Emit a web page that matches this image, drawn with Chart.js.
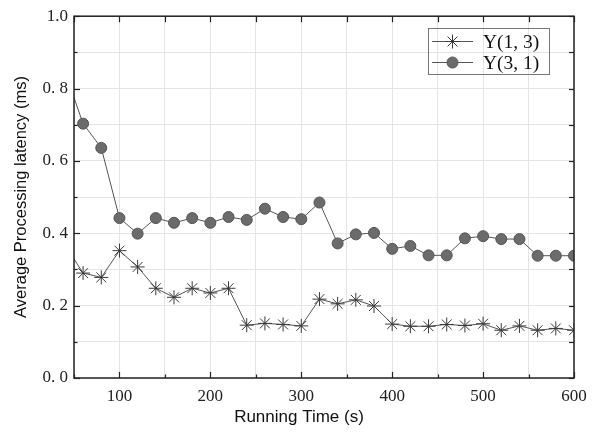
<!DOCTYPE html>
<html>
<head>
<meta charset="utf-8">
<script src="https://cdn.jsdelivr.net/npm/chart.js@4/dist/chart.umd.min.js"></script>
<style>
html,body{margin:0;padding:0;background:#fff;}
#wrap{width:598px;height:432px;position:relative;}
</style>
</head>
<body>
<div id="wrap"><canvas id="c" width="598" height="432"></canvas></div>
<script>
// Running time (s); first point lies left of the visible range and is clipped
const times = [40, 60, 80, 100, 120, 140, 160, 180, 200, 220, 240, 260, 280, 300, 320, 340, 360, 380, 400, 420, 440, 460, 480, 500, 520, 540, 560, 580, 600];
const y13 = [0.368, 0.290, 0.278, 0.352, 0.307, 0.248, 0.223, 0.248, 0.235, 0.248, 0.146, 0.151, 0.148, 0.144, 0.218, 0.205, 0.216, 0.199, 0.149, 0.143, 0.143, 0.148, 0.145, 0.150, 0.132, 0.144, 0.132, 0.137, 0.132];
const y31 = [0.847, 0.703, 0.636, 0.442, 0.399, 0.442, 0.429, 0.442, 0.429, 0.445, 0.437, 0.468, 0.445, 0.439, 0.485, 0.372, 0.397, 0.401, 0.357, 0.365, 0.339, 0.339, 0.386, 0.392, 0.384, 0.384, 0.338, 0.338, 0.338];
const seriesNames = ['Y(1, 3)', 'Y(3, 1)'];
const xTitle = 'Running Time (s)';
const yTitle = 'Average Processing latency (ms)';

const SERIF = '"Liberation Serif", "DejaVu Serif", serif';
const SANS = '"Liberation Sans", Arial, sans-serif';

function pts(ys){ return times.map((t,i)=>({x:t,y:ys[i]})); }

const framePlugin = {
  id:'frame',
  beforeDraw(chart){
    const ctx=chart.ctx;
    ctx.save(); ctx.fillStyle='#fff'; ctx.fillRect(0,0,chart.width,chart.height); ctx.restore();
  },
  afterDraw(chart){
    const ctx=chart.ctx, a=chart.chartArea, xs=chart.scales.x, ys=chart.scales.y;
    ctx.save();
    ctx.strokeStyle='#222'; ctx.lineWidth=1.5;
    ctx.strokeRect(a.left,a.top,a.right-a.left,a.bottom-a.top);
    ctx.lineWidth=1.2;
    for(let v=50; v<=600; v+=50){
      const px=Math.round(xs.getPixelForValue(v))+0.5;
      const major = v%100===0;
      const L = major?6:3.5;
      ctx.beginPath(); ctx.moveTo(px,a.bottom); ctx.lineTo(px,a.bottom-L); ctx.stroke();
      ctx.beginPath(); ctx.moveTo(px,a.top); ctx.lineTo(px,a.top+6); ctx.stroke();
    }
    for(let i=0;i<=10;i++){
      const v=i/10;
      const py=Math.round(ys.getPixelForValue(v))+0.5;
      const L = i%2===0?6:3.5;
      ctx.beginPath(); ctx.moveTo(a.left,py); ctx.lineTo(a.left+L,py); ctx.stroke();
      ctx.beginPath(); ctx.moveTo(a.right,py); ctx.lineTo(a.right-5,py); ctx.stroke();
    }
    ctx.fillStyle='#111';
    ctx.font='17px '+SANS;
    ctx.textAlign='center'; ctx.textBaseline='middle';
    ctx.fillText(xTitle, 299, 417);
    ctx.translate(21,197); ctx.rotate(-Math.PI/2);
    ctx.font='16.5px '+SANS;
    ctx.fillText(yTitle,0,0);
    ctx.restore();
    ctx.save();
    ctx.strokeStyle='#777'; ctx.lineWidth=1;
    ctx.strokeRect(428.5,28.5,121,46);
    const rows=[41.5,62.5];
    chart.data.datasets.forEach((ds,i)=>{
      const y=rows[i];
      ctx.strokeStyle=ds.borderColor; ctx.lineWidth=1;
      ctx.beginPath(); ctx.moveTo(432,y); ctx.lineTo(473,y); ctx.stroke();
      ctx.fillStyle=ds.pointBackgroundColor; ctx.strokeStyle=ds.pointBorderColor;
      Chart.helpers.drawPoint(ctx,{pointStyle:ds.pointStyle,radius:ds.pointRadius,borderWidth:ds.pointBorderWidth,rotation:0},452.5,y);
      ctx.fillStyle='#111'; ctx.font='19.5px '+SERIF; ctx.textAlign='left'; ctx.textBaseline='middle';
      ctx.fillText(ds.label,483,y+1);
    });
    ctx.restore();
  }
};

new Chart(document.getElementById('c'),{
  type:'line',
  data:{datasets:[
    {label:seriesNames[0],data:pts(y13),borderColor:'#555',borderWidth:1,pointStyle:'star',pointRadius:7,pointBorderWidth:1,pointBorderColor:'#3a3a3a',pointBackgroundColor:'#3a3a3a',tension:0},
    {label:seriesNames[1],data:pts(y31),borderColor:'#555',borderWidth:1,pointStyle:'circle',pointRadius:5.5,pointBorderWidth:1,pointBorderColor:'#555',pointBackgroundColor:'#6b6b6b',tension:0}
  ]},
  options:{
    responsive:false,animation:false,
    layout:{padding:{top:13,right:24,left:0,bottom:0}},
    plugins:{legend:{display:false},tooltip:{enabled:false}},
    scales:{
      x:{type:'linear',min:50,max:600,
        afterFit(s){s.height=54;},
        grid:{color:'#e4e4e4',lineWidth:1,drawTicks:false},
        border:{display:false},
        ticks:{stepSize:50,autoSkip:false,maxRotation:0,padding:8,color:'#222',font:{family:SERIF,size:17},
          callback:v=> (v%100===0? String(v):'')}
      },
      y:{min:0,max:1,
        afterFit(s){s.width=74;},
        grid:{color:'#e4e4e4',lineWidth:1,drawTicks:false},
        border:{display:false},
        ticks:{stepSize:0.1,autoSkip:false,padding:6,color:'#222',font:{family:SERIF,size:17},
          callback:v=>{const k=Math.round(v*10); if(k%2) return ''; return k===10?'1.0':'0. '+k;}}
      }
    }
  },
  plugins:[framePlugin]
});
</script>
</body>
</html>
